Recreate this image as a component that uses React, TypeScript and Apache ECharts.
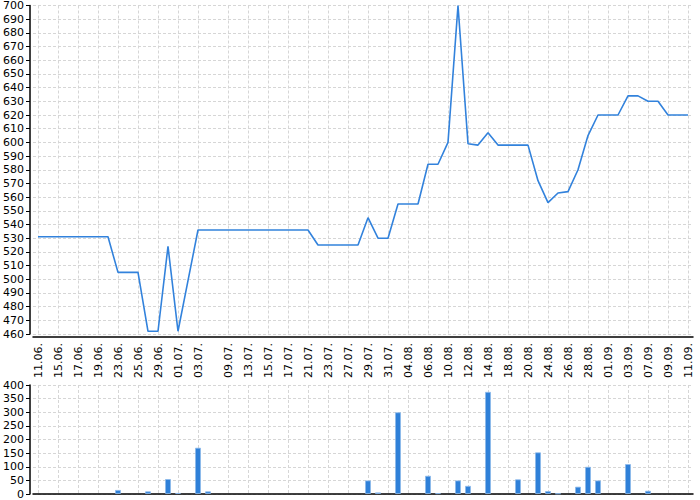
import React, { useEffect, useRef } from 'react';
import * as echarts from 'echarts';

// trade dates (category axis), only every other one is labelled
const dates: string[] = [
  '11.06.', '13.06.', '15.06.', '16.06.', '17.06.', '18.06.', '19.06.', '21.06.', '23.06.', '24.06.',
  '25.06.', '27.06.', '29.06.', '30.06.', '01.07.', '02.07.', '03.07.', '05.07.', '07.07.', '09.07.',
  '11.07.', '13.07.', '14.07.', '15.07.', '16.07.', '17.07.', '19.07.', '21.07.', '22.07.', '23.07.',
  '25.07.', '27.07.', '28.07.', '29.07.', '30.07.', '31.07.', '02.08.', '04.08.', '05.08.', '06.08.',
  '08.08.', '10.08.', '11.08.', '12.08.', '13.08.', '14.08.', '16.08.', '18.08.', '19.08.', '20.08.',
  '22.08.', '24.08.', '25.08.', '26.08.', '27.08.', '28.08.', '30.08.', '01.09.', '02.09.', '03.09.',
  '05.09.', '07.09.', '08.09.', '09.09.', '10.09.', '11.09.',
];

// labels that are shown on the x axis
const shownLabels: string[] = [
  '11.06.', '15.06.', '17.06.', '19.06.', '23.06.', '25.06.', '29.06.', '01.07.', '03.07.',
  '09.07.', '13.07.', '15.07.', '17.07.', '21.07.', '23.07.', '27.07.', '29.07.', '31.07.',
  '04.08.', '06.08.', '10.08.', '12.08.', '14.08.', '18.08.', '20.08.', '24.08.', '26.08.',
  '28.08.', '01.09.', '03.09.', '07.09.', '09.09.', '11.09.',
];

const prices: number[] = [
  531, 531, 531, 531, 531, 531, 531, 531, 505, 505,
  505, 462, 462, 524, 462, 499, 536, 536, 536, 536,
  536, 536, 536, 536, 536, 536, 536, 536, 525, 525,
  525, 525, 525, 545, 530, 530, 555, 555, 555, 584,
  584, 600, 700, 599, 598, 607, 598, 598, 598, 598,
  572, 556, 563, 564, 580, 605, 620, 620, 620, 634,
  634, 630, 630, 620, 620, 620,
];

const volumes: number[] = [
  0, 0, 0, 0, 0, 0, 0, 0, 15, 0,
  0, 10, 0, 55, 4, 0, 170, 10, 0, 0,
  0, 0, 0, 0, 0, 0, 0, 0, 0, 0,
  0, 0, 0, 50, 6, 0, 300, 0, 0, 67,
  3, 0, 50, 30, 0, 375, 0, 0, 54, 0,
  153, 11, 2, 0, 27, 100, 50, 0, 0, 110,
  0, 12, 0, 0, 0, 0,
];

const priceTicks = { min: 460, max: 700, step: 10 };
const volumeTicks = { min: 0, max: 400, step: 50 };

const App: React.FC = () => {
  const chartRef = useRef<HTMLDivElement>(null);

  useEffect(() => {
    if (!chartRef.current) return;
    const chart = echarts.init(chartRef.current, null, { renderer: 'svg' });

    const isShown = (_i: number, v: string) => shownLabels.includes(v);
    const font = { fontFamily: 'DejaVu Sans', fontSize: 11, color: '#000' };
    const dashStyle = { color: '#d6d6d6', type: [3, 2] as number[], width: 1 };

    const yAxisBase = {
      type: 'value',
      offset: 3,
      axisLine: { show: true, lineStyle: { color: '#000', width: 1.5 } },
      axisTick: { show: true, length: 4, lineStyle: { color: '#000' } },
      axisLabel: { margin: 6, ...font },
      splitLine: { show: true, lineStyle: dashStyle },
    };

    const xAxisBase = {
      type: 'category',
      data: dates,
      boundaryGap: true,
      axisLine: { lineStyle: { color: '#000', width: 1.5 } },
      splitLine: { show: true, interval: isShown, alignWithLabel: true, lineStyle: dashStyle },
    };

    const option = {
      animation: false,
      grid: [
        { left: 33, right: 7, top: 5, height: 329 },
        { left: 33, right: 7, top: 385, height: 109 },
      ],
      xAxis: [
        {
          ...xAxisBase,
          gridIndex: 0,
          offset: 3,
          axisTick: { interval: isShown, alignWithLabel: true, length: 4, lineStyle: { color: '#000' } },
          axisLabel: { interval: isShown, rotate: 90, margin: 6, ...font },
        },
        {
          ...xAxisBase,
          gridIndex: 1,
          axisTick: { show: false },
          axisLabel: { show: false },
        },
      ],
      yAxis: [
        { ...yAxisBase, gridIndex: 0, min: priceTicks.min, max: priceTicks.max, interval: priceTicks.step },
        { ...yAxisBase, gridIndex: 1, min: volumeTicks.min, max: volumeTicks.max, interval: volumeTicks.step },
      ],
      series: [
        {
          type: 'line',
          xAxisIndex: 0,
          yAxisIndex: 0,
          z: 3,
          data: prices,
          showSymbol: false,
          lineStyle: { color: '#3282dc', width: 1.6 },
          itemStyle: { color: '#3282dc' },
        },
        {
          type: 'bar',
          xAxisIndex: 1,
          yAxisIndex: 1,
          z: 3,
          data: volumes.map((v) => (v > 0 ? v : null)),
          barWidth: 6,
          itemStyle: { color: '#2f80d8', borderColor: 'rgba(140,185,235,0.8)', borderWidth: 1 },
        },
      ],
    };

    chart.setOption(option);
    return () => {
      chart.dispose();
    };
  }, []);

  return (
    <div
      ref={chartRef}
      style={{ position: 'absolute', left: 0, top: 0, width: '700px', height: '500px', background: '#fff' }}
    />
  );
};

export default App;
